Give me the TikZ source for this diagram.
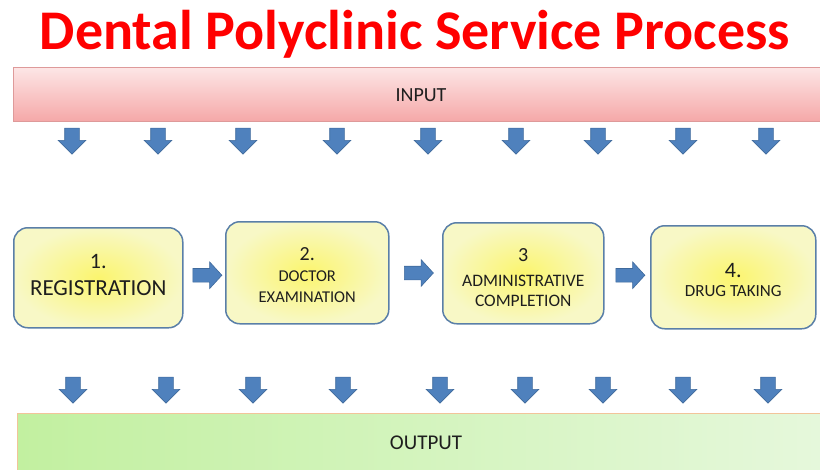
\documentclass[tikz,border=0pt]{standalone}
\usepackage{fontspec}
\setmainfont{Carlito}
\usetikzlibrary{shapes.arrows,calc}
\definecolor{arrowblue}{HTML}{4F81BD}
\definecolor{arrowedge}{HTML}{3F6A9C}
\definecolor{boxedge}{HTML}{5A7FA8}
\definecolor{boxin}{HTML}{FBF56E}
\definecolor{boxout}{HTML}{F8F8C6}
\definecolor{pinktop}{HTML}{FDE6E6}
\definecolor{pinkbot}{HTML}{F5A8A8}
\definecolor{pinkedge}{HTML}{DE9A9A}
\definecolor{greenl}{HTML}{C2F0A0}
\definecolor{greenr}{HTML}{E6F8DC}
\definecolor{greenedge}{HTML}{F2C49A}
\definecolor{titlered}{HTML}{FF0000}
\definecolor{txt}{HTML}{1E1E1E}
\begin{document}
\begin{tikzpicture}[x=1pt,y=-1pt,
  downarr/.style={single arrow, fill=arrowblue, draw=arrowedge, line width=0.6pt,
    rotate=-90, minimum height=26pt, inner xsep=0pt, inner ysep=7pt,
    single arrow head extend=6.5pt, single arrow tip angle=90, anchor=center},
  rightarr/.style={single arrow, fill=arrowblue, draw=arrowedge, line width=0.6pt,
    minimum height=29pt, inner xsep=0pt, inner ysep=6.5pt,
    single arrow head extend=6.5pt, single arrow tip angle=95, anchor=center},
  stepbox/.style={draw=boxedge, line width=1.5pt, rounded corners=14pt,
    inner color=boxin, outer color=boxout, anchor=north west},
  lbl/.style={text=txt, anchor=base, inner sep=0pt},
]
\useasboundingbox (0,0) rectangle (820,469);
\clip (0,0) rectangle (820,469);

% title
\node[text=titlered, font=\fontsize{56}{60}\selectfont\bfseries, anchor=base, inner sep=0pt]
  (title) at (415,49.5) {Dental Polyclinic Service Process};

% input bar
\node[draw=pinkedge, line width=0.6pt, top color=pinktop, bottom color=pinkbot,
  minimum width=817pt, minimum height=54pt, inner sep=0pt, anchor=north west]
  (input) at (13,67) {};
\node[lbl, font=\fontsize{20}{24}\selectfont] (inputlbl) at (421,101.5) {INPUT};

% output bar
\node[draw=greenedge, line width=0.6pt, left color=greenl, right color=greenr,
  minimum width=813pt, minimum height=62pt, inner sep=0pt, anchor=north west]
  (output) at (17,413) {};
\node[lbl, font=\fontsize{21}{24}\selectfont] (outputlbl) at (426,449) {OUTPUT};

% input arrows
\foreach \x [count=\i] in {72,158,243,337,428,516,598,683,766}
  \node[downarr] (ia\i) at (\x,137.5) {};

% output arrows
\foreach \x [count=\i] in {73,166,253,343,440,525,603,683,768}
  \node[downarr] (oa\i) at (\x,386.5) {};

% process boxes
\node[stepbox, minimum width=169pt, minimum height=100pt] (b1) at (13,227) {};
\node[stepbox, minimum width=163pt, minimum height=102pt] (b2) at (225,221) {};
\node[stepbox, minimum width=161pt, minimum height=101pt] (b3) at (442,222) {};
\node[stepbox, minimum width=165pt, minimum height=103pt] (b4) at (650,225) {};

% box texts
\node[lbl, font=\fontsize{22}{24}\selectfont] (b1a) at (b1.center |- 0,268) {1.};
\node[lbl, font=\fontsize{23}{24}\selectfont] (b1b) at (b1.center |- 0,295) {REGISTRATION};

\node[lbl, font=\fontsize{20}{24}\selectfont] (b2a) at (b2.center |- 0,260) {2.};
\node[lbl, font=\fontsize{16.5}{20}\selectfont] (b2b) at (b2.center |- 0,281) {DOCTOR};
\node[lbl, font=\fontsize{16.5}{20}\selectfont] (b2c) at (b2.center |- 0,302) {EXAMINATION};

\node[lbl, font=\fontsize{20}{24}\selectfont] (b3a) at (b3.center |- 0,261) {3};
\node[lbl, font=\fontsize{17.5}{20}\selectfont] (b3b) at (b3.center |- 0,286) {ADMINISTRATIVE};
\node[lbl, font=\fontsize{17.5}{20}\selectfont] (b3c) at (b3.center |- 0,306) {COMPLETION};

\node[lbl, font=\fontsize{22}{24}\selectfont] (b4a) at (b4.center |- 0,277) {4.};
\node[lbl, font=\fontsize{17}{20}\selectfont] (b4b) at (b4.center |- 0,296) {DRUG TAKING};

% arrows between boxes
\node[rightarr] (r1) at ($(b1.east)!0.5!(b2.west)$) {};
\node[rightarr] (r2) at ($(b2.east)!0.5!(b3.west)$) {};
\node[rightarr] (r3) at ($(b3.east)!0.5!(b4.west)$) {};
\end{tikzpicture}
\end{document}
